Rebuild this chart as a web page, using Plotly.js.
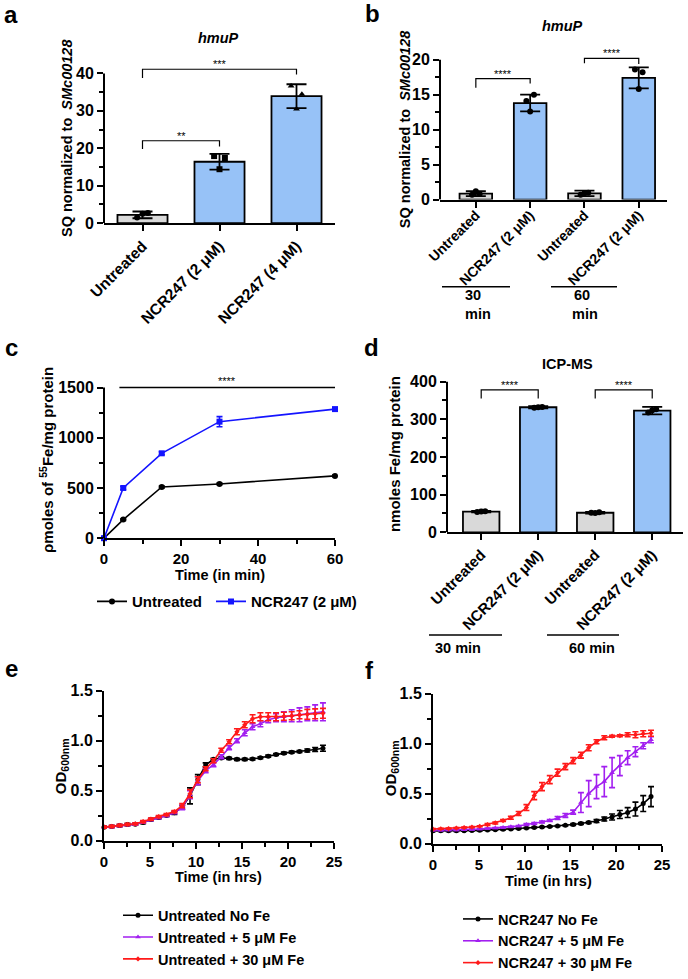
<!DOCTYPE html>
<html><head><meta charset="utf-8">
<script src="https://cdn.plot.ly/plotly-3.0.1.min.js"></script>
<style>html,body{margin:0;padding:0;background:#fff}#chart{width:688px;height:979px}</style>
</head><body><div id="chart"></div>
<script>
// ---------------- data ----------------
const catsA = ['Untreated', 'NCR247 (2 μM)', 'NCR247 (4 μM)'];
const meanA = [2.2, 16.4, 33.9];
const errA = [0.9, 2.1, 3.2];
const ptsA = [[1.5, 2.7, 2.5], [17.9, 17.4, 14.4], [36.6, 34.4, 30.5]];

const catsB = ['Untreated', 'NCR247 (2 μM)', 'Untreated', 'NCR247 (2 μM)'];
const meanB = [0.85, 13.8, 0.9, 17.4];
const errB = [0.35, 1.2, 0.4, 1.5];
const ptsB = [[0.7, 0.8, 1.2], [14.1, 15.0, 12.6], [0.7, 1.0, 0.9], [18.6, 18.2, 15.8]];
const groupsB = ['30', '60'];

const timeC = [0, 5, 15, 30, 60];
const untreatedC = [0, 185, 510, 540, 620];
const untreatedCErr = [0, 8, 10, 8, 8];
const ncrC = [0, 500, 845, 1160, 1285];
const ncrCErr = [0, 15, 15, 50, 12];
const namesC = ['Untreated', 'NCR247 (2 μM)'];

const catsD = ['Untreated', 'NCR247 (2 μM)', 'Untreated', 'NCR247 (2 μM)'];
const meanD = [55, 332, 52, 323];
const errD = [2, 3, 2, 10];
const ptsD = [[54, 56, 55], [331, 333, 332], [52, 53, 51], [318, 327, 324]];
const groupsD = ['30 min', '60 min'];

const timeEF = [0, 0.85, 1.7, 2.55, 3.4, 4.25, 5.1, 5.95, 6.8, 7.65, 8.5, 9.35, 10.2, 11.05, 11.9,
  12.75, 13.6, 14.45, 15.3, 16.15, 17, 17.85, 18.7, 19.55, 20.4, 21.25, 22.1, 22.95, 23.8];

const eNoFe = [0.134, 0.141, 0.15, 0.16, 0.163, 0.18, 0.21, 0.23, 0.252, 0.278, 0.334, 0.448, 0.611, 0.758, 0.814,
  0.827, 0.824, 0.814, 0.814, 0.817, 0.83, 0.846, 0.863, 0.876, 0.886, 0.892, 0.902, 0.912, 0.925];
const eNoFeErr = [0.01, 0.01, 0.01, 0.01, 0.01, 0.01, 0.01, 0.01, 0.01, 0.015, 0.02, 0.08, 0.05, 0.02, 0.01,
  0.01, 0.01, 0.01, 0.01, 0.01, 0.01, 0.01, 0.01, 0.01, 0.01, 0.01, 0.015, 0.02, 0.03];
const eFe5 = [0.134, 0.14, 0.15, 0.158, 0.165, 0.185, 0.21, 0.23, 0.25, 0.28, 0.33, 0.46, 0.6, 0.7, 0.76,
  0.84, 0.93, 1.0, 1.08, 1.14, 1.17, 1.21, 1.23, 1.24, 1.25, 1.26, 1.27, 1.28, 1.29];
const eFe5Err = [0.01, 0.01, 0.01, 0.01, 0.01, 0.01, 0.01, 0.01, 0.01, 0.01, 0.02, 0.04, 0.04, 0.02, 0.02,
  0.02, 0.02, 0.02, 0.03, 0.03, 0.03, 0.03, 0.04, 0.05, 0.06, 0.07, 0.07, 0.08, 0.09];
const eFe30 = [0.135, 0.142, 0.152, 0.162, 0.168, 0.19, 0.215, 0.24, 0.26, 0.29, 0.35, 0.47, 0.61, 0.72, 0.8,
  0.905, 0.99, 1.09, 1.16, 1.22, 1.24, 1.24, 1.24, 1.245, 1.25, 1.26, 1.265, 1.27, 1.275];
const eFe30Err = [0.01, 0.01, 0.01, 0.01, 0.01, 0.01, 0.01, 0.01, 0.01, 0.01, 0.02, 0.04, 0.03, 0.02, 0.02,
  0.02, 0.02, 0.03, 0.03, 0.04, 0.04, 0.04, 0.04, 0.04, 0.04, 0.04, 0.05, 0.05, 0.05];
const namesE = ['Untreated No Fe', 'Untreated + 5 μM Fe', 'Untreated + 30 μM Fe'];

const fNoFe = [0.127, 0.127, 0.127, 0.127, 0.128, 0.13, 0.132, 0.135, 0.138, 0.142, 0.146, 0.15, 0.155, 0.16, 0.165,
  0.17, 0.175, 0.182, 0.19, 0.2, 0.21, 0.225, 0.245, 0.265, 0.29, 0.31, 0.345, 0.4, 0.47];
const fNoFeErr = [0.005, 0.005, 0.005, 0.005, 0.005, 0.005, 0.005, 0.005, 0.005, 0.005, 0.005, 0.005, 0.005, 0.005, 0.005,
  0.005, 0.005, 0.005, 0.01, 0.01, 0.01, 0.015, 0.02, 0.03, 0.04, 0.05, 0.07, 0.08, 0.1];
const fFe5 = [0.133, 0.134, 0.135, 0.136, 0.138, 0.14, 0.145, 0.15, 0.155, 0.16, 0.167, 0.176, 0.19, 0.2, 0.215,
  0.23, 0.255, 0.28, 0.314, 0.41, 0.5, 0.57, 0.62, 0.71, 0.78, 0.86, 0.92, 0.98, 1.04];
const fFe5Err = [0.005, 0.005, 0.005, 0.005, 0.005, 0.005, 0.005, 0.005, 0.005, 0.005, 0.005, 0.005, 0.01, 0.01, 0.01,
  0.01, 0.015, 0.02, 0.02, 0.1, 0.13, 0.12, 0.15, 0.15, 0.1, 0.07, 0.05, 0.03, 0.03];
const fFe30 = [0.145, 0.148, 0.15, 0.155, 0.16, 0.165, 0.173, 0.19, 0.206, 0.23, 0.258, 0.3, 0.36, 0.48, 0.57,
  0.64, 0.71, 0.77, 0.83, 0.885, 0.96, 1.02, 1.06, 1.075, 1.08, 1.09, 1.09, 1.1, 1.105];
const fFe30Err = [0.005, 0.005, 0.005, 0.005, 0.005, 0.005, 0.005, 0.01, 0.01, 0.01, 0.015, 0.02, 0.03, 0.04, 0.04,
  0.04, 0.035, 0.03, 0.03, 0.03, 0.03, 0.02, 0.02, 0.01, 0.01, 0.02, 0.03, 0.03, 0.03];
const namesF = ['NCR247 No Fe', 'NCR247 + 5 μM Fe', 'NCR247 + 30 μM Fe'];

// significance brackets: [fromCat, toCat, leftLegBottom, top, rightLegBottom, label]
const bracketsA = [[0, 1, 19.8, 22.0, 20.5, '**'], [0, 2, 38.8, 41.1, 39.7, '***']];
const bracketsB = [[0, 1, 16.0, 17.3, 16.6, '****'], [2, 3, 19.5, 20.2, 19.4, '****']];
const bracketsD = [[0, 1, 355, 378, 355, '****'], [2, 3, 355, 378, 355, '****']];

// ---------------- layout helpers ----------------
const W = 688, H = 979;
const FONT = 'Liberation Sans, Arial, sans-serif';
const px = v => v / W;
const py = v => 1 - v / H;
function ydom(p0, pv, v, rmax) { const s = (p0 - pv) / v; return [py(p0), py(p0 - rmax * s)]; }

const GRAY = '#d9d9d9', BLUE = '#97c2f7', PURPLE = '#a21ff0', RED = '#ff1a1a';
const jitter = [-0.07, 0.07, 0];

function xAxisCat(domain, range, cats, anchor, size, standoff) {
  return {domain, range, anchor, tickmode: 'array', tickvals: cats.map((c, i) => i), ticktext: cats,
    tickangle: -45, showline: true, linewidth: 2, linecolor: '#000', ticks: 'outside', ticklen: 6, tickwidth: 2,
    ticklabelstandoff: standoff || 0,
    tickcolor: '#000', showgrid: false, zeroline: false, tickfont: {family: FONT, size, weight: 700, color: '#000'}};
}
function yAxis(domain, range, dtick, minorDtick, anchor, showline, fmt, size) {
  return {domain, range, anchor, tickmode: 'linear', tick0: 0, dtick, showline, linewidth: 2, linecolor: '#000',
    ticks: 'outside', ticklen: 6, tickwidth: 2, tickcolor: '#000', showgrid: false, zeroline: false,
    tickformat: fmt || '', minor: {dtick: minorDtick, tick0: 0, ticks: 'outside', ticklen: 4, tickwidth: 2, tickcolor: '#000'},
    tickfont: {family: FONT, size: size || 16, weight: 700, color: '#000'}};
}
function xAxisNum(domain, range, dtick, minorDtick, anchor) {
  return yAxis(domain, range, dtick, minorDtick, anchor, true, '', 15);
}

const traces = [];
const shapes = [];
const annotations = [];

function barPanel(cats, mean, err, pts, symbols, xa, ya, width, topVal) {
  traces.push({type: 'bar', x: cats.map((c, i) => i), y: mean, width,
    marker: {color: cats.map(c => c === 'Untreated' ? GRAY : BLUE), line: {color: '#000', width: 1.8}},
    error_y: {type: 'data', array: err, visible: true, color: '#000', thickness: 1.8, width: 10},
    xaxis: xa, yaxis: ya, showlegend: false, hoverinfo: 'skip'});
  pts.forEach((p, i) => {
    traces.push({type: 'scatter', mode: 'markers', x: p.map((v, k) => i + jitter[k]), y: p,
      marker: {color: '#000', size: 6, symbol: symbols[i]}, xaxis: xa, yaxis: ya, showlegend: false,
      cliponaxis: false, hoverinfo: 'skip'});
  });
  // y axis line drawn up to the top tick only
  shapes.push({type: 'line', xref: xa + ' domain', x0: 0, x1: 0, yref: ya, y0: 0, y1: topVal,
    line: {color: '#000', width: 2}});
}
function brackets(list, xa, ya, starSize) {
  list.forEach(b => {
    shapes.push({type: 'path', xref: xa, yref: ya,
      path: `M ${b[0]},${b[2]} L ${b[0]},${b[3]} L ${b[1]},${b[3]} L ${b[1]},${b[4]}`,
      line: {color: '#000', width: 1.2}});
    annotations.push({xref: xa, yref: ya, x: (b[0] + b[1]) / 2, y: b[3], yanchor: 'bottom', showarrow: false,
      text: b[5], font: {family: FONT, size: starSize, color: '#000'}, yshift: -3});
  });
}

// ---- panel a ----
barPanel(catsA, meanA, errA, ptsA, ['circle', 'square', 'triangle-up'], 'x', 'y', 0.65, 40);
brackets(bracketsA, 'x', 'y', 11);
// ---- panel b ----
barPanel(catsB, meanB, errB, ptsB, ['circle', 'circle', 'circle', 'circle'], 'x2', 'y2', 0.6, 20);
brackets(bracketsB, 'x2', 'y2', 11);
// ---- panel d ----
barPanel(catsD, meanD, errD, ptsD, ['circle', 'circle', 'circle', 'circle'], 'x4', 'y4', 0.64, 400);
brackets(bracketsD, 'x4', 'y4', 11);

// ---- line panels ----
function lineTrace(x, y, err, name, color, symbol, size, xa, ya, legend) {
  return {type: 'scatter', mode: 'lines+markers', x, y, name, line: {color, width: 1.6},
    marker: {color, symbol, size}, error_y: {type: 'data', array: err, visible: true, color, thickness: 1.6, width: 3},
    xaxis: xa, yaxis: ya, legend, cliponaxis: false, hoverinfo: 'skip'};
}
traces.push(lineTrace(timeC, untreatedC, untreatedCErr, namesC[0], '#000', 'circle', 6, 'x3', 'y3', 'legend'));
traces.push(lineTrace(timeC, ncrC, ncrCErr, namesC[1], '#1414ff', 'square', 6, 'x3', 'y3', 'legend4'));
shapes.push({type: 'line', xref: 'x3 domain', x0: 0, x1: 0, yref: 'y3', y0: 0, y1: 1500, line: {color: '#000', width: 2}});
shapes.push({type: 'line', xref: 'x3', x0: 4, x1: 60, yref: 'y3', y0: 1500, y1: 1500, line: {color: '#000', width: 1.5}});
annotations.push({xref: 'x3', yref: 'y3', x: 32, y: 1500, yanchor: 'bottom', yshift: -1, showarrow: false, text: '****',
  font: {family: FONT, size: 11, color: '#000'}});

traces.push(lineTrace(timeEF, eNoFe, eNoFeErr, namesE[0], '#000', 'circle', 5, 'x5', 'y5', 'legend2'));
traces.push(lineTrace(timeEF, eFe5, eFe5Err, namesE[1], PURPLE, 'triangle-up', 5, 'x5', 'y5', 'legend2'));
traces.push(lineTrace(timeEF, eFe30, eFe30Err, namesE[2], RED, 'diamond', 4, 'x5', 'y5', 'legend2'));
traces.push(lineTrace(timeEF, fNoFe, fNoFeErr, namesF[0], '#000', 'circle', 5, 'x6', 'y6', 'legend3'));
traces.push(lineTrace(timeEF, fFe5, fFe5Err, namesF[1], PURPLE, 'triangle-up', 5, 'x6', 'y6', 'legend3'));
traces.push(lineTrace(timeEF, fFe30, fFe30Err, namesF[2], RED, 'diamond', 4, 'x6', 'y6', 'legend3'));

// ---- text annotations (paper) ----
function txt(x, y, text, size, extra) {
  annotations.push(Object.assign({xref: 'paper', yref: 'paper', x: px(x), y: py(y), text, showarrow: false,
    xanchor: 'center', yanchor: 'middle', font: {family: FONT, size, weight: 700, color: '#000'}}, extra || {}));
}
txt(11, 15, 'a', 24); txt(372, 14, 'b', 24); txt(11, 355, 'c', 24); txt(371, 355, 'd', 24);
txt(11, 683, 'e', 24); txt(370, 685, 'f', 24);
txt(218, 39, '<i>hmuP</i>', 14.5); txt(562, 27, '<i>hmuP</i>', 14.5); txt(567, 372, 'ICP-MS', 14.5);
txt(67, 141, 'SQ normalized to  <i>SMc00128</i>', 14.5, {textangle: -90});
txt(405, 132, 'SQ normalized to  <i>SMc00128</i>', 14.5, {textangle: -90});
txt(47, 470, 'ρmoles of <sup>55</sup>Fe/mg protein', 15, {textangle: -90});
txt(394, 464, 'nmoles Fe/mg protein', 15, {textangle: -90});
txt(61, 783, 'OD<sub>600nm</sub>', 15, {textangle: -90});
txt(391, 785, 'OD<sub>600nm</sub>', 15, {textangle: -90});
txt(220, 588, 'Time (in min)', 14.5);
txt(218, 896, 'Time (in hrs)', 14.5);
txt(548, 900, 'Time (in hrs)', 14.5);
// group labels under b and d
txt(463, 301, groupsB[0], 14.5, {xanchor: 'left'});
txt(463, 321, 'min', 14.5, {xanchor: 'left'});
txt(572, 301, groupsB[1], 14.5, {xanchor: 'left'});
txt(570, 321, 'min', 14.5, {xanchor: 'left'});
txt(458, 662, groupsD[0], 14.5);
txt(592, 662, groupsD[1], 14.5);
[[442, 510, 293], [551, 617, 293], [429, 502, 649], [547, 619, 649]].forEach(l => {
  shapes.push({type: 'line', xref: 'paper', yref: 'paper', x0: px(l[0]), x1: px(l[1]), y0: py(l[2]), y1: py(l[2]),
    line: {color: '#000', width: 1.5}});
});

const legendBase = {xanchor: 'left', yanchor: 'top', bgcolor: 'rgba(0,0,0,0)', borderwidth: 0, itemwidth: 30,
  traceorder: 'normal', font: {family: FONT, size: 14.5, weight: 700, color: '#000'}};

const layout = {
  width: W, height: H, margin: {l: 0, r: 0, t: 0, b: 0}, paper_bgcolor: '#fff', plot_bgcolor: 'rgba(0,0,0,0)',
  showlegend: true, font: {family: FONT, color: '#000'},
  xaxis: xAxisCat([px(104), px(335)], [-0.5, 2.5], catsA, 'y', 15.5),
  yaxis: yAxis(ydom(228, 75, 40, 44), [0, 44], 10, 5, 'x', false),
  xaxis2: xAxisCat([px(440), px(667)], [-0.66, 3.52], catsB, 'y2', 14, -6),
  yaxis2: yAxis(ydom(204, 61, 20, 22), [0, 22], 5, 2.5, 'x2', false),
  xaxis3: xAxisNum([px(104), px(335)], [0, 60], 20, 10, 'y3'),
  yaxis3: yAxis(ydom(550, 396, 1500, 1640), [0, 1640], 500, 250, 'x3', false),
  xaxis4: xAxisCat([px(447), px(683)], [-0.6, 3.54], catsD, 'y4', 15),
  yaxis4: yAxis(ydom(544, 390, 400, 405), [0, 405], 100, 50, 'x4', false),
  xaxis5: xAxisNum([px(104), px(334)], [0, 25], 5, 2.5, 'y5'),
  yaxis5: yAxis(ydom(859, 706, 1.5, 1.5), [0, 1.5], 0.5, 0.25, 'x5', true, '.1f'),
  xaxis6: xAxisNum([px(433), px(662)], [0, 25], 5, 2.5, 'y6'),
  yaxis6: yAxis(ydom(862, 709, 1.5, 1.5), [0, 1.5], 0.5, 0.25, 'x6', true, '.1f'),
  legend: Object.assign({}, legendBase, {x: px(92), y: py(598), font: {family: FONT, size: 15, weight: 700, color: '#000'}}),
  legend4: Object.assign({}, legendBase, {x: px(211), y: py(598), font: {family: FONT, size: 15, weight: 700, color: '#000'}}),
  legend2: Object.assign({}, legendBase, {x: px(118), y: py(919)}),
  legend3: Object.assign({}, legendBase, {x: px(458), y: py(923)}),
  shapes, annotations
};

Plotly.newPlot('chart', traces, layout, {displayModeBar: false, staticPlot: true});
</script>
</body></html>
